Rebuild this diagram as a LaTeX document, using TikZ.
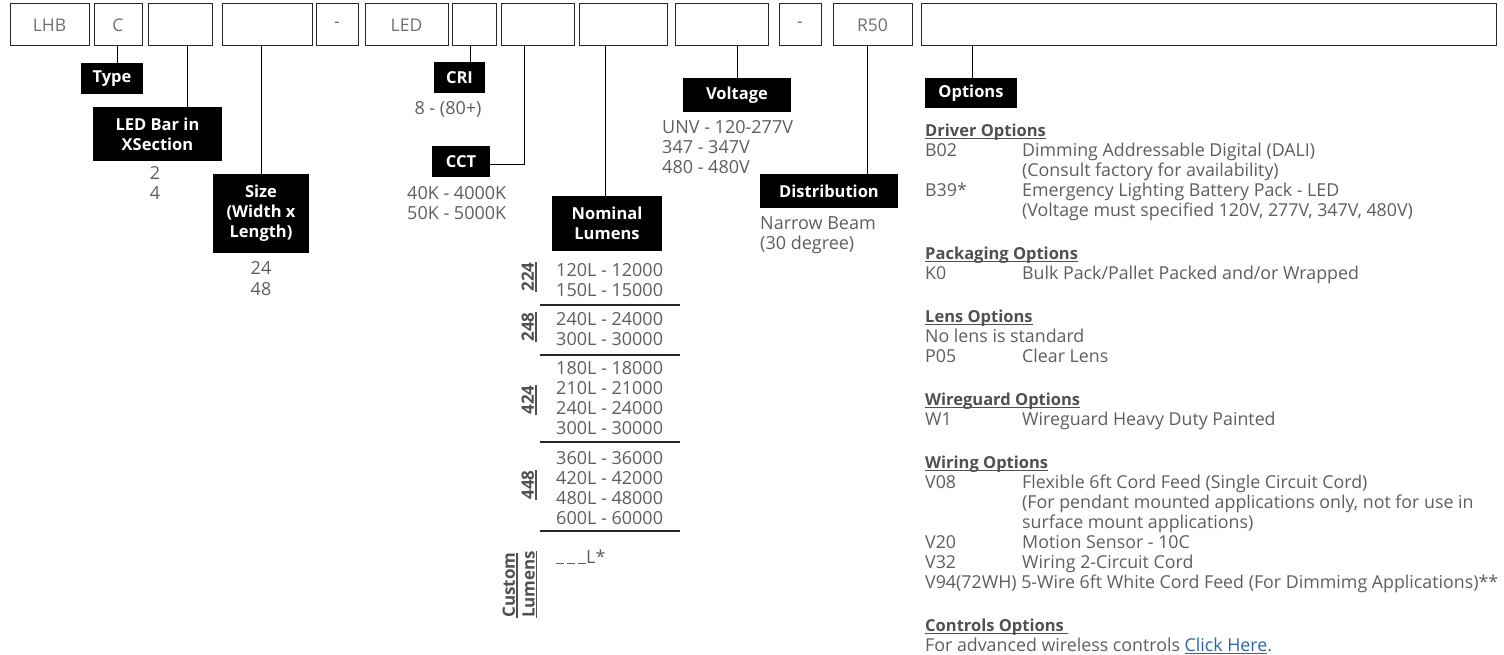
\documentclass[tikz,border=0pt]{standalone}
\usepackage{fontspec}
\setmainfont{Open Sans}
\definecolor{txtgrey}{HTML}{5E5E5E}
\definecolor{codegrey}{HTML}{707070}
\definecolor{hdrgrey}{HTML}{505050}
\definecolor{linkblue}{HTML}{2F63A8}
\newsavebox\myulbox
\newcommand\myul[1]{\sbox\myulbox{#1}\rlap{\rule[-2.8pt]{\wd\myulbox}{1.1pt}}\usebox\myulbox}
\newcommand\hdrline[1]{\multicolumn{2}{@{}l@{}}{\textcolor{hdrgrey}{\bfseries\fontsize{16.5}{20}\selectfont\myul{#1}}}}
\newcommand\spanline[1]{\multicolumn{2}{@{}l@{}}{#1}}
\newcommand\blankdash{\rule[-1pt]{7.5pt}{1pt}}
\begin{document}
\begin{tikzpicture}[x=1pt,y=-1pt,
  codebox/.style={draw=black!85, line width=1pt, minimum height=42pt, inner sep=0pt, text=codegrey, font=\fontsize{17.5}{20}\selectfont},
  tag/.style={fill=black, text=white, inner sep=0pt, align=center, font=\bfseries\fontsize{16.5}{20}\selectfont},
  val/.style={anchor=base west, inner sep=0pt, text=txtgrey, font=\fontsize{18}{20}\selectfont},
  valc/.style={val, anchor=base},
  conn/.style={line width=1pt, black},
  sepline/.style={line width=1.4pt, black!85},
  grp/.style={rotate=90, inner sep=0pt, text=hdrgrey, font=\bfseries\fontsize{17}{20}\selectfont}
]
\useasboundingbox (0,0) rectangle (1504,655);

% code boxes
\node[codebox, minimum width=79pt] (b1) at (49.5,25) {LHB};
\node[codebox, minimum width=48pt] (b2) at (118,25) {C};
\node[codebox, minimum width=64pt] (b3) at (180,25) {};
\node[codebox, minimum width=90pt] (b4) at (267,25) {};
\node[codebox, minimum width=42pt] (b5) at (337,25) {-};
\node[codebox, minimum width=83pt] (b6) at (406.5,25) {LED};
\node[codebox, minimum width=44pt] (b7) at (474,25) {};
\node[codebox, minimum width=73pt] (b8) at (537.5,25) {};
\node[codebox, minimum width=88pt] (b9) at (623,25) {};
\node[codebox, minimum width=93pt] (b10) at (721.5,25) {};
\node[codebox, minimum width=42pt] (b11) at (800,25) {-};
\node[codebox, minimum width=79pt] (b12) at (872.5,25) {R50};
\node[codebox, minimum width=575pt] (b13) at (1208.5,25) {};

% tags
\node[tag, minimum width=62pt, minimum height=31pt] (type) at (112,78.5) {Type};
\node[tag, minimum width=129pt, minimum height=54pt] (ledbar) at (157.5,134) {LED Bar in\\XSection};
\node[tag, minimum width=96pt, minimum height=79pt] (size) at (261,213.5) {Size\\(Width x\\Length)};
\node[tag, minimum width=51pt, minimum height=31pt] (cri) at (459.5,77.5) {CRI};
\node[tag, minimum width=58pt, minimum height=31pt] (cct) at (461,161.5) {CCT};
\node[tag, minimum width=110pt, minimum height=55pt] (nl) at (607,223.5) {Nominal\\Lumens};
\node[tag, minimum width=108pt, minimum height=34pt] (volt) at (737,95) {Voltage};
\node[tag, minimum width=138pt, minimum height=34pt] (dist) at (829,191) {Distribution};
\node[tag, minimum width=92pt, minimum height=30pt] (opt) at (971,93) {Options};

% connectors
\draw[conn] ([xshift=-1pt]b2.south) -- ([xshift=-1pt]b2.south |- type.north);
\draw[conn] ([xshift=7pt]b3.south) -- ([xshift=7pt]b3.south |- ledbar.north);
\draw[conn] ([xshift=-6pt]b4.south) -- ([xshift=-6pt]b4.south |- size.north);
\draw[conn] ([xshift=-4pt]b7.south) -- ([xshift=-4pt]b7.south |- cri.north);
\draw[conn] ([xshift=-13.5pt]b8.south) |- ([yshift=-3.5pt]cct.east);
\draw[conn] ([xshift=-18pt]b9.south) -- ([xshift=-18pt]b9.south |- nl.north);
\draw[conn] ([xshift=15.5pt]b10.south) -- ([xshift=15.5pt]b10.south |- volt.north);
\draw[conn] ([xshift=-5.5pt]b12.south) -- ([xshift=-5.5pt]b12.south |- dist.north);
\draw[conn] ([xshift=-236.5pt]b13.south) -- ([xshift=-236.5pt]b13.south |- opt.north);

% values
\node[valc] (x2) at (155,179.5) {2};
\node[valc] (x4) at (155,199.5) {4};
\node[valc] (s24) at (261,274.5) {24};
\node[valc] (s48) at (261,295) {48};
\node[valc] (cri8) at (448,114.5) {8 - (80+)};
\node[val] (c40) at (407,199.5) {40K - 4000K};
\node[val] (c50) at (407,219.5) {50K - 5000K};
\node[val] (vunv) at (662,133.5) {UNV - 120-277V};
\node[val] (v347) at (662,153.5) {347 - 347V};
\node[val] (v480) at (662,173.5) {480 - 480V};
\node[val] (dnb) at (760,229.5) {Narrow Beam};
\node[val] (d30) at (760,249.5) {(30 degree)};

% lumens table
\node[val] (l1) at (556,276.5) {120L - 12000};
\node[val] (l2) at (556,296.5) {150L - 15000};
\node[val] (l3) at (556,325.5) {240L - 24000};
\node[val] (l4) at (556,345.5) {300L - 30000};
\node[val] (l5) at (556,374.5) {180L - 18000};
\node[val] (l6) at (556,394.5) {210L - 21000};
\node[val] (l7) at (556,414.5) {240L - 24000};
\node[val] (l8) at (556,434.5) {300L - 30000};
\node[val] (l9) at (556,464.5) {360L - 36000};
\node[val] (l10) at (556,484.5) {420L - 42000};
\node[val] (l11) at (556,504.5) {480L - 48000};
\node[val] (l12) at (556,524.5) {600L - 60000};
\node[val] (lc) at (556,563) {\blankdash\hspace{3.5pt}\blankdash\hspace{3.5pt}\blankdash\hspace{0.5pt}L*};
\draw[sepline] (540,305) -- (680,305);
\draw[sepline] (540,355) -- (680,355);
\draw[sepline] (540,442) -- (680,442);
\draw[sepline] (540,531) -- (680,531);
\node[grp] (g224) at (529,277) {\myul{224}};
\node[grp] (g248) at (529,327) {\myul{248}};
\node[grp] (g424) at (529,400) {\myul{424}};
\node[grp] (g448) at (529,485) {\myul{448}};
\node[grp, anchor=west] (gcus) at (510,618) {\myul{Custom}};
\node[grp, anchor=west] (glum) at (530,618) {\myul{Lumens}};

% options list
\node[anchor=north west, inner sep=0pt, text=txtgrey, font=\fontsize{17.8}{20}\selectfont] (optlist) at (925,122) {%
\begin{tabular}{@{}p{97pt}@{}l@{}}
\hdrline{Driver Options}\\
B02 & Dimming Addressable Digital (DALI)\\
 & (Consult factory for availability)\\
B39* & Emergency Lighting Battery Pack - LED\\
 & (Voltage must specified 120V, 277V, 347V, 480V)\\[23pt]
\hdrline{Packaging Options}\\
K0 & Bulk Pack/Pallet Packed and/or Wrapped\\[23pt]
\hdrline{Lens Options}\\
\spanline{No lens is standard}\\
P05 & Clear Lens\\[23pt]
\hdrline{Wireguard Options}\\
W1 & Wireguard Heavy Duty Painted\\[23pt]
\hdrline{Wiring Options}\\
V08 & Flexible 6ft Cord Feed (Single Circuit Cord)\\
 & (For pendant mounted applications only, not for use in\\
 & surface mount applications)\\
V20 & Motion Sensor - 10C\\
V32 & Wiring 2-Circuit Cord\\
\spanline{V94(72WH) 5-Wire 6ft White Cord Feed (For Dimmimg Applications)**}\\[23pt]
\hdrline{Controls Options~}\\
\spanline{For advanced wireless controls \textcolor{linkblue}{\myul{Click Here}}.}
\end{tabular}};
\end{tikzpicture}
\end{document}
